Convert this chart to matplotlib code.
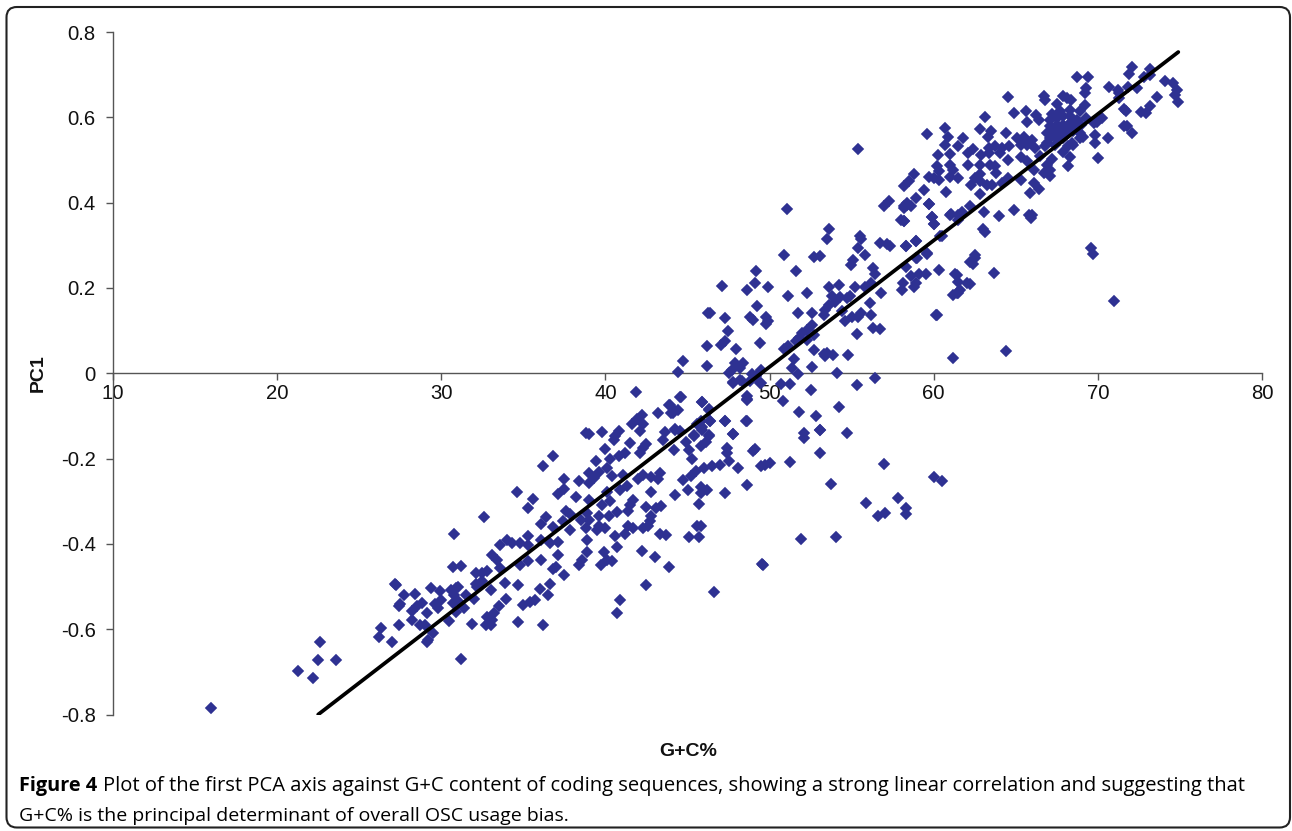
import matplotlib
matplotlib.use("Agg")
import matplotlib.pyplot as plt
from matplotlib.patches import FancyBboxPatch

points_low = [(16.0,-.784),(21.27,-.697),(22.2,-.714),(22.5,-.672),(22.6,-.631),(23.6,-.673),(26.3,-.598),(26.2,-.619),(27.0,-.631),(27.4,-.59),
(27.2,-.494),(27.25,-.497),(27.7,-.519),(28.4,-.518),(27.5,-.541),(27.4,-.545),(28.2,-.578),(28.2,-.557),(28.5,-.545),(28.8,-.539),(29.1,-.561),(28.7,-.591),(29.0,-.591),(29.5,-.608),(29.2,-.625),(29.1,-.63),
(29.4,-.504),(29.9,-.51),(30.0,-.531),(29.6,-.54),(29.8,-.55),(30.7,-.454),(31.2,-.453),(30.8,-.376),(31.2,-.669),(30.5,-.58),(31.9,-.587),(30.9,-.504),(30.6,-.508),(31.0,-.50),(30.8,-.52),(30.7,-.539),(31.0,-.535),(30.9,-.56),(31.4,-.55),(31.5,-.52),(32.1,-.495),(32.1,-.468),(32.0,-.53),(32.2,-.50),
(32.7,-.59),(33.1,-.578),(33.0,-.59),(34.65,-.583),(36.2,-.59),(32.5,-.488),(33.0,-.507)]

points_lower_mid = [(41.87,-.044),(44.58,-.056),(43.95,-.074),(44.1,-.093),(44.4,-.085),(43.2,-.093),(45.9,-.068),(46.3,-.084),(48.6,-.062),(48.6,-.054),(47.8,-.023),(48.3,-.019),(49.5,-.024),
(42.2,-.097),(41.9,-.107),(41.6,-.118),(42.3,-.12),(42.1,-.136),(47.3,-.113),(46.4,-.113),(48.6,-.113),(45.8,-.113),(45.6,-.12),(38.8,-.14),(39.0,-.142),(39.8,-.138),(40.8,-.136),(40.6,-.148),(40.5,-.156),
(43.6,-.138),(43.5,-.156),(44.25,-.13),(44.55,-.136),(44.9,-.16),(45.4,-.148),(45.9,-.132),(46.3,-.144),(46.1,-.16),(45.8,-.171),(47.8,-.142),(41.5,-.163),(40.0,-.178),(42.5,-.165),(42.3,-.175),(42.1,-.187),(41.2,-.187),(40.8,-.195),(40.3,-.201),
(44.15,-.181),(45.1,-.179),(47.4,-.175),(47.4,-.188),(47.5,-.206),(49.1,-.178),(49.0,-.182),(36.8,-.193),(36.2,-.217),(39.4,-.206),(40.1,-.222),(45.3,-.2),(49.7,-.214),(50.0,-.21),(49.5,-.218),(48.05,-.222),(47.0,-.214),(46.5,-.218),(46.0,-.222),(45.5,-.23),(45.2,-.242),(44.7,-.251),
(37.5,-.247),(38.4,-.252),(39.0,-.234),(39.6,-.232),(39.3,-.245),(39.0,-.257),(40.4,-.242),(41.1,-.238),(42.0,-.247),(42.3,-.239),(42.8,-.243),(43.3,-.234),(43.2,-.247),(37.5,-.271),(37.1,-.283),(34.6,-.279),(35.6,-.295),(35.3,-.315),(38.2,-.289),(39.0,-.298),(40.1,-.279),(40.9,-.273),(41.3,-.265),(42.8,-.278),(44.25,-.285),(45.0,-.273),(45.8,-.267),(46.2,-.273),(45.8,-.281),(47.3,-.281),(48.6,-.261),
(40.3,-.30),(39.8,-.308),(41.7,-.298),(41.5,-.308),(42.5,-.313),(43.4,-.312),(43.1,-.316),(45.7,-.306),(32.6,-.337),(36.4,-.337),(37.6,-.324),(37.85,-.331),(38.9,-.328),(39.6,-.334),(40.2,-.334),(40.7,-.326),(41.4,-.324),(42.8,-.335),
(36.1,-.353),(36.8,-.36),(37.4,-.347),(38.5,-.343),(39.0,-.343),(42.7,-.347),(37.85,-.367),(38.8,-.363),(39.6,-.359),(40.0,-.363),(39.5,-.368),(41.4,-.359),(41.7,-.363),(42.3,-.363),(42.6,-.359),(45.6,-.359),(45.8,-.359),
(34.0,-.39),(33.6,-.402),(34.3,-.399),(34.8,-.399),(35.3,-.382),(35.3,-.402),(36.1,-.39),(36.6,-.398),(37.1,-.396),(40.6,-.382),(41.2,-.376),(43.3,-.376),(43.7,-.38),(45.1,-.385),(45.7,-.385),(38.9,-.392),(40.7,-.408),
(33.1,-.425),(33.4,-.437),(34.8,-.449),(35.3,-.441),(36.1,-.437),(37.1,-.426),(38.9,-.42),(39.9,-.42),(38.6,-.437),(40.1,-.437),(40.4,-.441),(42.2,-.417),(43.0,-.431),(38.4,-.449),(39.7,-.45),(43.9,-.455),(49.6,-.449),
(37.0,-.454),(36.8,-.46),(37.5,-.472),(32.5,-.468),(32.8,-.464),(33.6,-.456),(33.9,-.492),(34.7,-.496),(36.6,-.493),(42.5,-.496),(36.0,-.505),(36.5,-.52),(46.6,-.513),(33.95,-.529),(40.9,-.531),(35.7,-.532),(35.4,-.537),(35.0,-.544),(33.5,-.546),(40.7,-.562),(33.2,-.562),(32.8,-.571)]

points_upper_mid = [(51.05,.386),(57.0,.391),(57.3,.403),(58.4,.395),(58.2,.387),(59.7,.396),(61.0,.372),(59.9,.366),(60.0,.351),(58.0,.36),(58.2,.356),(61.5,.372),(53.65,.338),(53.5,.315),(55.5,.321),(55.6,.315),(55.4,.294),(55.8,.278),
(56.7,.305),(57.35,.299),(57.15,.304),(58.3,.299),(58.9,.309),(60.5,.321),(50.9,.278),(52.7,.272),(53.1,.275),(59.6,.279),(58.95,.27),(55.1,.266),(54.95,.254),(56.3,.247),(56.4,.233),(58.3,.25),(60.35,.241),(61.3,.233),(59.1,.233),(59.5,.233),(58.6,.229),
(49.2,.239),(51.6,.239),(49.1,.211),(48.6,.196),(47.1,.205),(49.9,.202),(51.15,.18),(52.3,.188),(61.45,.213),(61.2,.184),(61.5,.188),(56.2,.211),(55.8,.202),(55.2,.202),(54.2,.208),(53.65,.202),(56.8,.188),(58.05,.196),(58.15,.211),(58.8,.202),(58.95,.211),
(53.8,.18),(54.3,.179),(54.9,.18),(54.7,.176),(54.0,.168),(53.6,.161),(53.4,.149),(53.3,.137),(56.1,.164),(49.25,.158),(51.75,.141),(52.6,.141),(46.25,.141),(46.4,.141),(47.3,.129),(48.8,.133),(49.0,.125),(49.8,.133),(49.9,.122),(49.8,.116),
(54.4,.145),(55.0,.133),(54.6,.122),(55.6,.141),(55.4,.133),(56.2,.136),(60.2,.136),(52.6,.114),(52.3,.102),(52.0,.094),(51.8,.083),(51.6,.075),(52.3,.079),(52.7,.09),(47.45,.098),(56.3,.107),(56.7,.103),(55.3,.093),
(47.3,.076),(47.05,.067),(47.95,.057),(46.2,.063),(49.4,.071),(51.15,.063),(50.9,.057),(52.7,.055),(53.3,.046),(53.5,.047),(53.85,.043),(53.4,.04),(54.8,.043),(51.5,.034),(61.2,.035),
(44.75,.029),(46.2,.018),(44.4,.002),(47.9,.024),(48.4,.024),(47.7,.008),(47.5,.0),(48.2,.012),(49.5,.008),(51.35,.012),(52.6,.014),(51.75,-.001),(54.1,-.0),(48.9,-.001),
(47.75,-.021),(48.2,-.015),(48.8,-.019),(49.4,-.024),(49.2,-.007),(50.7,-.025),(51.25,-.025),(55.35,-.027),(56.4,-.01),(52.5,-.039),(44.55,-.056),(48.6,-.06),(45.9,-.067),(50.8,-.066),(54.2,-.078),(51.8,-.09),(52.8,-.101),(46.3,-.086),(43.9,-.074),(44.2,-.086),(44.0,-.093),(46.4,-.113),(47.3,-.113),(48.55,-.113),
(52.1,-.14),(53.1,-.132),(54.7,-.14),(47.75,-.142),(45.9,-.125),(45.4,-.144),(46.3,-.146),(44.25,-.132)]

points_top = [(72.1,.718),(71.9,.701),(73.2,.713),(72.8,.694),(73.15,.70),(68.7,.694),(69.4,.694),(74.1,.686),(74.6,.68),(74.8,.663),(74.7,.653),(74.9,.637),(73.6,.647),(73.15,.627),(72.6,.612),(72.95,.61),(70.7,.671),(71.3,.657),(71.2,.663),(71.85,.672),(72.4,.669),(71.3,.645),(71.6,.619),(71.7,.614),(71.8,.579),(71.6,.579),(72.1,.563),
(69.3,.669),(69.2,.657),(69.2,.63),(64.5,.647),(66.7,.649),(66.8,.64),(67.5,.631),(67.9,.651),(68.35,.641),(68.1,.645),(68.9,.614),(64.9,.61),(65.6,.614),(63.1,.60),(65.7,.589),(66.25,.606),(66.4,.594),(67.2,.608),(67.7,.614),(68.3,.618),
(67.1,.594),(67.5,.599),(67.9,.602),(68.3,.602),(68.7,.594),(67.1,.579),(67.5,.583),(67.9,.583),(68.3,.586),(68.7,.579),(69.0,.583),(66.9,.563),(67.3,.567),(67.7,.567),(68.1,.567),(68.5,.567),(68.9,.563),(67.1,.551),(67.5,.551),(67.9,.551),(68.9,.551),(69.1,.555),(68.4,.54),(66.9,.54),(66.8,.532),(67.4,.536),(68.2,.532),(68.5,.536),(69.3,.599),(69.75,.586),(70.25,.599),(69.95,.59),
(69.85,.559),(69.85,.54),(70.6,.551),(70.0,.505),(68.3,.507),(67.9,.518),(68.2,.485),(60.7,.575),(62.8,.573),(63.5,.569),(63.3,.555),(64.4,.563),(59.6,.562),(60.9,.554),(60.7,.536),(61.8,.551),(61.45,.532),(65.1,.551),(65.5,.555),(66.0,.547),(65.3,.536),(65.7,.536),(66.2,.528),
(62.4,.525),(62.1,.516),(62.9,.512),(63.35,.528),(63.75,.532),(64.15,.528),(64.6,.532),(64.05,.516),(64.5,.5),(63.35,.516),(60.25,.512),(61.0,.514),(62.1,.489),(62.8,.489),(63.4,.489),(63.75,.485),(65.3,.508),(65.7,.497),(66.5,.51),(67.2,.502),(66.9,.489),(67.1,.477),(66.7,.469),(67.1,.463),(66.1,.476),(60.2,.485),(61.0,.489),(61.2,.477),(60.3,.473),
(58.8,.468),(59.7,.461),(60.0,.458),(60.3,.454),(61.0,.459),(61.45,.457),(58.5,.45),(58.2,.438),(59.4,.43),(62.8,.468),(62.5,.458),(62.3,.442),(62.8,.45),(63.8,.469),(64.5,.458),(64.15,.446),(65.3,.454),(66.1,.447),(66.4,.432),(65.85,.422),(63.25,.442),(63.55,.442),(62.8,.421),
(60.75,.425),(58.9,.412),(59.7,.397),(58.4,.399),(58.2,.391),(58.6,.393),(62.2,.391),(61.7,.377),(61.05,.373),(63.05,.379),(64.0,.369),(64.9,.383),(65.8,.372),(66.0,.37),(65.9,.364),(59.9,.366),(60.0,.35),(58.2,.356),(61.5,.36),(63.0,.339),(63.1,.331),(60.4,.321),(58.9,.311),(58.3,.299),(59.6,.282),(62.5,.278),(62.2,.261),(59.0,.27)]

points_outlying = [(69.6,.293),(69.7,.28),(71.0,.17),(64.4,.053),(60.15,.137),(63.7,.236),(62.5,.27),(62.4,.255),(62.0,.212),(61.4,.231),(61.4,.189),(61.6,.196),(62.2,.21),(55.4,.526),
(51.26,-.207),(53.1,-.186),(52.1,-.151),(53.1,-.133),(53.75,-.26),(54.05,-.384),(51.9,-.389),(55.9,-.304),(57.0,-.213),(56.6,-.334),(57.05,-.327),(57.8,-.292),(58.3,-.315),(58.3,-.33),(60.0,-.243),(60.5,-.252),(49.55,-.447)]

trend_x = [22.5, 74.9]
trend_y = [-0.8, 0.753]
x_ticks = [10, 20, 30, 40, 50, 60, 70, 80]
y_ticks = [0.8, 0.6, 0.4, 0.2, 0, -0.2, -0.4, -0.6, -0.8]
y_labels = ["0.8", "0.6", "0.4", "0.2", "0", "-0.2", "-0.4", "-0.6", "-0.8"]

W, H = 1292, 831
fig = plt.figure(figsize=(W / 100, H / 100), dpi=100, facecolor="white")

frame = FancyBboxPatch((6.5 / W, 1 - 827.5 / H), (1290 - 6.5) / W, (827.5 - 7) / H,
                       boxstyle="round,pad=0,rounding_size=0.008", transform=fig.transFigure,
                       fc="white", ec="#222222", lw=1.5, mutation_aspect=W / H, clip_on=False, zorder=-5)
fig.add_artist(frame)

ax = fig.add_axes([113 / W, 1 - 714.5 / H, (1262 - 113) / W, (714.5 - 32) / H])
ax.patch.set_alpha(0)
ax.set_xlim(10, 80)
ax.set_ylim(-0.8, 0.8)
for s in ("top", "right"):
    ax.spines[s].set_visible(False)
ax.spines["bottom"].set_position(("data", 0))
for s in ("bottom", "left"):
    ax.spines[s].set_color("#555555")
    ax.spines[s].set_linewidth(1.0)
ax.set_xticks(x_ticks)
ax.set_yticks(y_ticks)
ax.set_yticklabels(y_labels)
ax.tick_params(length=5, width=1.0, color="#555555", labelsize=14.6, pad=7.5, labelcolor="#111111")
ax.tick_params(axis="x", pad=2.5)
for t in ax.get_xticklabels() + ax.get_yticklabels():
    t.set_family("Liberation Sans")

all_points = points_low + points_lower_mid + points_upper_mid + points_top + points_outlying
ax.plot([p[0] for p in all_points], [p[1] for p in all_points], ls="none", marker="D",
        ms=5.7, mfc="#2E3192", mec="#2E3192", mew=0.2, zorder=3, clip_on=False)
ax.plot(trend_x, trend_y, color="black", lw=2.7, zorder=4, solid_capstyle="round")

fig.text(38 / W, 1 - 373 / H, "PC1", rotation=90, ha="center", va="center",
         family="Liberation Sans", weight="bold", fontsize=14, color="#111111")
fig.text(688 / W, 1 - 751 / H, "G+C%", ha="center", va="center",
         family="Liberation Sans", weight="bold", fontsize=14, color="#111111")

# caption: bold lead, then regular text placed after it
fam = "Open Sans"
y1, y2 = 1 - 791 / H, 1 - 821 / H
lead = fig.text(19 / W, y1, "Figure 4", family=fam, weight="bold", fontsize=14.3, color="black")
fig.canvas.draw()
ext = lead.get_window_extent()
fig.text((ext.x1 + 6) / W, y1,
         "Plot of the first PCA axis against G+C content of coding sequences, showing a strong linear correlation and suggesting that",
         family=fam, fontsize=14.52, color="black")
fig.text(19 / W, y2, "G+C% is the principal determinant of overall OSC usage bias.",
         family=fam, fontsize=14.0, color="black")

fig.savefig("out.png", dpi=100)
